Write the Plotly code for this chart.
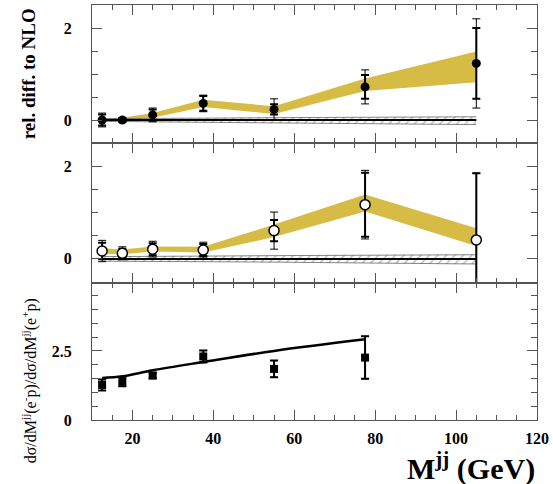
import plotly.graph_objects as go
from plotly.subplots import make_subplots

# ---------------- data ----------------
x_pts = [12.5, 17.5, 25, 37.5, 55, 77.5, 105]

# top panel: e- p relative difference to NLO (filled circles)
top_y = [0.0, 0.0, 0.11, 0.36, 0.23, 0.72, 1.23]
top_err_in = [0.12, 0.04, 0.12, 0.16, 0.11, 0.26, 0.77]
top_err_out = [0.15, 0.05, 0.15, 0.18, 0.23, 0.37, 0.97]
top_band_lo = [0.0, 0.0, 0.05, 0.28, 0.13, 0.63, 0.82]
top_band_hi = [0.04, 0.05, 0.15, 0.44, 0.30, 0.90, 1.49]
top_hatch_lo = [-0.03, -0.03, -0.04, -0.05, -0.06, -0.08, -0.10]
top_hatch_hi = [0.03, 0.03, 0.04, 0.04, 0.05, 0.06, 0.07]

# middle panel: e+ p relative difference to NLO (open circles)
mid_y = [0.17, 0.12, 0.21, 0.19, 0.61, 1.17, 0.41]
mid_err_in = [0.18, 0.10, 0.13, 0.13, 0.23, 0.69, 1.44]
mid_err_out = [0.23, 0.14, 0.17, 0.17, 0.40, 0.74, 1.44]
mid_band_lo = [0.11, 0.10, 0.16, 0.14, 0.47, 1.02, 0.28]
mid_band_hi = [0.23, 0.20, 0.27, 0.26, 0.74, 1.39, 0.66]
mid_hatch_lo = [-0.05, -0.05, -0.05, -0.06, -0.07, -0.09, -0.11]
mid_hatch_hi = [0.05, 0.05, 0.05, 0.06, 0.07, 0.08, 0.09]

# bottom panel: ratio e- p / e+ p (filled squares) and NLO line
x_ratio = [12.5, 17.5, 25, 37.5, 55, 77.5]
ratio_y = [1.27, 1.39, 1.61, 2.30, 1.85, 2.26]
ratio_err = [0.20, 0.17, 0.10, 0.22, 0.30, 0.77]
ratio_nlo = [1.52, 1.58, 1.80, 2.10, 2.50, 2.92]

YELLOW = "#D6BC45"
FONT = "Liberation Serif"

fig = make_subplots(rows=3, cols=1, shared_xaxes=True, vertical_spacing=0,
                    row_heights=[138, 140, 137])


def band(row, lo, hi, color=None, pattern=False):
    fig.add_trace(go.Scatter(x=x_pts, y=lo, mode="lines",
                             line=dict(width=0.6 if pattern else 0, color="#333"),
                             showlegend=False, hoverinfo="skip"), row=row, col=1)
    if pattern:
        fig.add_trace(go.Scatter(x=x_pts, y=hi, mode="lines", fill="tonexty",
                                 fillcolor="white",
                                 fillpattern=dict(shape="/", fgcolor="#666", bgcolor="white",
                                                  size=6, solidity=0.2),
                                 line=dict(width=0.6, color="#333"),
                                 showlegend=False, hoverinfo="skip"), row=row, col=1)
    else:
        fig.add_trace(go.Scatter(x=x_pts, y=hi, mode="lines", fill="tonexty",
                                 fillcolor=color, line=dict(width=0),
                                 showlegend=False, hoverinfo="skip"), row=row, col=1)


def zero_line(row):
    fig.add_trace(go.Scatter(x=[x_pts[0], x_pts[-1]], y=[0, 0], mode="lines",
                             line=dict(color="black", width=2),
                             showlegend=False, hoverinfo="skip"), row=row, col=1)


def points(row, xs, ys, err_in, err_out, marker):
    fig.add_trace(go.Scatter(x=xs, y=ys, mode="markers",
                             marker=dict(size=1, opacity=0),
                             error_y=dict(type="data", array=err_out, color="black",
                                          thickness=1, width=4),
                             showlegend=False), row=row, col=1)
    fig.add_trace(go.Scatter(x=xs, y=ys, mode="markers", marker=marker,
                             error_y=dict(type="data", array=err_in, color="black",
                                          thickness=2, width=4),
                             showlegend=False), row=row, col=1)


# top
band(1, top_band_lo, top_band_hi, color=YELLOW)
band(1, top_hatch_lo, top_hatch_hi, pattern=True)
zero_line(1)
points(1, x_pts, top_y, top_err_in, top_err_out,
       dict(symbol="circle", size=9, color="black"))

# middle
band(2, mid_band_lo, mid_band_hi, color=YELLOW)
band(2, mid_hatch_lo, mid_hatch_hi, pattern=True)
zero_line(2)
points(2, x_pts, mid_y, mid_err_in, mid_err_out,
       dict(symbol="circle", size=10, color="white", line=dict(color="black", width=1.5)))

# bottom
fig.add_trace(go.Scatter(x=x_ratio, y=ratio_nlo, mode="lines",
                         line=dict(color="black", width=2.5, shape="spline"),
                         showlegend=False), row=3, col=1)
points(3, x_ratio, ratio_y, ratio_err, ratio_err,
       dict(symbol="square", size=8, color="black"))

axis_common = dict(showline=True, mirror="allticks", linecolor="#555", linewidth=1.2,
                   ticks="inside", tickcolor="#555", showgrid=False, zeroline=False,
                   automargin=False)

fig.update_xaxes(range=[10, 120], tick0=0, dtick=20, ticklen=10,
                 minor=dict(dtick=5, ticklen=5, ticks="inside", tickcolor="#555", showgrid=False),
                 tickfont=dict(family=FONT, size=16, color="black", weight="bold"),
                 ticklabelstandoff=4, **axis_common)

yfont = dict(family=FONT, size=16, color="black", weight="bold")
yminor = dict(dtick=0.5, ticklen=6, ticks="inside", tickcolor="#555")
fig.update_yaxes(range=[-0.5, 2.5], tick0=0, dtick=2, ticklen=10, minor=yminor,
                 tickfont=yfont, ticklabelstandoff=16, **axis_common, row=1, col=1)
fig.update_yaxes(range=[-0.52, 2.5], tick0=0, dtick=2, ticklen=10, minor=yminor,
                 tickfont=yfont, ticklabelstandoff=16, **axis_common, row=2, col=1)
fig.update_yaxes(range=[0, 4.96], tick0=0, dtick=2.5, ticklen=10, minor=yminor,
                 tickfont=yfont, ticklabelstandoff=16, **axis_common, row=3, col=1)

fig.add_annotation(text="M<sup>jj</sup> (GeV)", xref="paper", yref="paper",
                   x=1.0, y=-0.111, xanchor="right", yanchor="middle", showarrow=False,
                   font=dict(family=FONT, size=30, color="black", weight="bold"))
fig.add_annotation(text="rel. diff. to NLO", xref="paper", yref="paper",
                   x=-0.142, y=0.835, textangle=-90, xanchor="center", yanchor="middle",
                   showarrow=False,
                   font=dict(family=FONT, size=19, color="black", weight="bold"))
fig.add_annotation(text="dσ/dM<sup>jj</sup>(e<sup>-</sup>p)/dσ/dM<sup>jj</sup>(e<sup>+</sup>p)",
                   xref="paper", yref="paper",
                   x=-0.14, y=0.095, textangle=-90, xanchor="center", yanchor="middle",
                   showarrow=False,
                   font=dict(family=FONT, size=16, color="black"))

fig.update_layout(width=553, height=484, plot_bgcolor="white", paper_bgcolor="white",
                  margin=dict(l=92, r=16, t=5, b=64), showlegend=False)

fig.write_html("out.html", config={"displayModeBar": False},
               post_script="document.body.style.margin='0';")
